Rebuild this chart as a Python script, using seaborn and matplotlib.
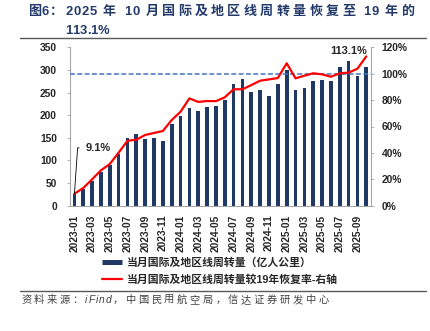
import matplotlib
matplotlib.use('Agg')
import matplotlib.pyplot as plt
import seaborn as sns
import numpy as np
import pandas as pd
from matplotlib.lines import Line2D
from matplotlib.ticker import FuncFormatter

# ---------------- data ----------------
months = ["2023-01", "2023-02", "2023-03", "2023-04", "2023-05", "2023-06",
          "2023-07", "2023-08", "2023-09", "2023-10", "2023-11", "2023-12",
          "2024-01", "2024-02", "2024-03", "2024-04", "2024-05", "2024-06",
          "2024-07", "2024-08", "2024-09", "2024-10", "2024-11", "2024-12",
          "2025-01", "2025-02", "2025-03", "2025-04", "2025-05", "2025-06",
          "2025-07", "2025-08", "2025-09", "2025-10"]
volume = [25, 37, 55, 75, 89, 114, 150, 158, 148, 150, 144, 181,
          198, 215, 209, 218, 220, 233, 269, 279, 251, 256, 243, 270,
          300, 255, 261, 276, 277, 276, 306, 319, 286, 306]
recovery = [9.1, 13.4, 20.0, 26.8, 31.6, 40.2, 49.2, 50.0, 53.6, 55.1, 56.6, 64.9,
            71.2, 81.3, 78.6, 79.3, 79.2, 82.1, 88.2, 88.2, 91.4, 94.7, 95.7, 96.7,
            107.9, 96.5, 98.5, 100.3, 99.5, 97.7, 100.3, 100.8, 103.8, 113.1]
baseline_2019 = 100.0
left_ticks = [0, 50, 100, 150, 200, 250, 300, 350]
right_ticks = [0, 20, 40, 60, 80, 100, 120]
title_prefix = "图6："
title_line1 = "2025 年 10 月国际及地区线周转量恢复至 19 年的"
title_line2 = "113.1%"
legend_labels = ["当月国际及地区线周转量（亿人公里）",
                 "当月国际及地区线周转量较19年恢复率-右轴"]
source_text = "资料来源：iFind，中国民用航空局，信达证券研发中心"

# ---------------- style ----------------
NAVY = "#1F3864"
RED = "#FF0000"
BLUE = "#4472C4"
GRAY = "#A6A6A6"
TITLE_COLOR = "#22396A"

sns.set_style("white")
plt.rcParams['font.family'] = ['Liberation Sans', 'Noto Sans CJK SC']
plt.rcParams['axes.unicode_minus'] = False

W, H = 430, 331
fig = plt.figure(figsize=(W / 100, H / 100), dpi=100)
ax = fig.add_axes([70 / W, 1 - 205.7 / H, (370.7 - 70) / W, (205.7 - 47.3) / H])

df = pd.DataFrame({"month": months, "volume": volume, "recovery": recovery})
pos = np.arange(len(months))

sns.barplot(data=df, x="month", y="volume", ax=ax, color=NAVY, saturation=1,
            width=0.42, linewidth=0, order=months)
ax.set_xlim(-0.5, len(months) - 0.5)
ax.set_ylim(0, 350)
ax.set_xlabel("")
ax.set_ylabel("")

ax2 = ax.twinx()
ax2.axhline(baseline_2019, color=BLUE, lw=1.1, ls=(0, (3.2, 1.6)), zorder=1)
sns.lineplot(x=pos, y=df["recovery"].values, ax=ax2, color=RED, lw=1.6, zorder=3)
ax2.set_ylim(0, 120)
ax2.set_xlim(-0.5, len(months) - 0.5)
ax2.set_ylabel("")

# ticks
ax.set_yticks(left_ticks)
ax.set_yticklabels([str(v) for v in left_ticks], fontsize=7.4, fontweight='bold')
ax2.set_yticks(right_ticks)
ax2.yaxis.set_major_formatter(FuncFormatter(lambda v, p: f"{v:.0f}%"))
for lb in ax2.get_yticklabels():
    lb.set_fontweight('bold')
ax.set_xticks(pos[::2])
ax.set_xticklabels(months[::2], rotation=90, fontsize=7.4, fontweight='bold')
ax.set_xticks(np.arange(-0.5, len(months), 2), minor=True)
ax.tick_params(axis='x', which='major', length=0, pad=6.5)
ax.tick_params(axis='x', which='minor', length=2.4, width=0.6, color=GRAY, direction='out')
ax.tick_params(axis='y', length=2.4, width=0.6, color=GRAY, direction='out', pad=7, labelsize=7.4)
ax2.tick_params(axis='y', length=2.4, width=0.6, color=GRAY, direction='out', pad=5.3, labelsize=7.4)

for s in ['top', 'right']:
    ax.spines[s].set_visible(False)
for s in ['top', 'left', 'bottom']:
    ax2.spines[s].set_visible(False)
for sp in [ax.spines['left'], ax.spines['bottom'], ax2.spines['right']]:
    sp.set_color(GRAY)
    sp.set_linewidth(0.8)
ax.grid(False)
ax2.grid(False)

# annotations
ax2.annotate(f"{recovery[0]:.1f}%", xy=(pos[0], recovery[0]), xytext=(8.3, 33),
             textcoords='offset points', ha='left', va='center', fontsize=8,
             fontweight='bold',
             arrowprops=dict(arrowstyle='-', color='black', lw=0.6, shrinkA=2.5, shrinkB=0,
                             relpos=(0, 0.5),
                             connectionstyle="angle,angleA=0,angleB=86,rad=0"))
ax2.annotate(f"{recovery[-1]:.1f}%", xy=(pos[-1], recovery[-1]), xytext=(0.8, 4.2),
             textcoords='offset points', ha='right', va='center', fontsize=8,
             fontweight='bold')

# legend
handles = [Line2D([], [], color=NAVY, lw=3.6, solid_capstyle='butt'),
           Line2D([], [], color=RED, lw=1.6)]
fig.legend(handles, legend_labels, loc='upper left',
           bbox_to_anchor=(102 / W, 1 - 257 / H), frameon=False,
           prop={'size': 7.8, 'weight': 'bold'}, handlelength=1.85,
           handletextpad=0.4, labelspacing=0.6, borderpad=0, borderaxespad=0)

# rules
fig.add_artist(Line2D([20 / W, 426 / W], [1 - 37.5 / H] * 2, color='#595959', lw=1.0,
                      transform=fig.transFigure))
fig.add_artist(Line2D([20 / W, 426 / W], [1 - 291 / H] * 2, color='#595959', lw=1.0,
                      transform=fig.transFigure))

renderer = fig.canvas.get_renderer()


def is_cjk(ch):
    return ord(ch) > 0x2E80


def spaced_text(x_px, y_px, text, size, gap_cjk, gap_other, space_px, **kw):
    x = x_px
    for ch in text:
        if ch == ' ':
            x += space_px
            continue
        t = fig.text(x / W, 1 - y_px / H, ch, fontsize=size, ha='left', va='center', **kw)
        w = t.get_window_extent(renderer).width
        x += w + (gap_cjk if is_cjk(ch) else gap_other)
    return x


spaced_text(29, 12, title_prefix, 9.4, 0.0, 0.5, 3, color=TITLE_COLOR, fontweight='bold')
spaced_text(65, 12, title_line1, 9.4, 3.4, 0.9, 5.0, color=TITLE_COLOR, fontweight='bold')
spaced_text(65, 30.5, title_line2, 9.4, 0.5, 0.0, 3, color=TITLE_COLOR, fontweight='bold')
spaced_text(21, 300, source_text, 7.4, 2.6, 1.0, 3, color='#404040', fontstyle='italic')

fig.savefig("out.png", dpi=100)
